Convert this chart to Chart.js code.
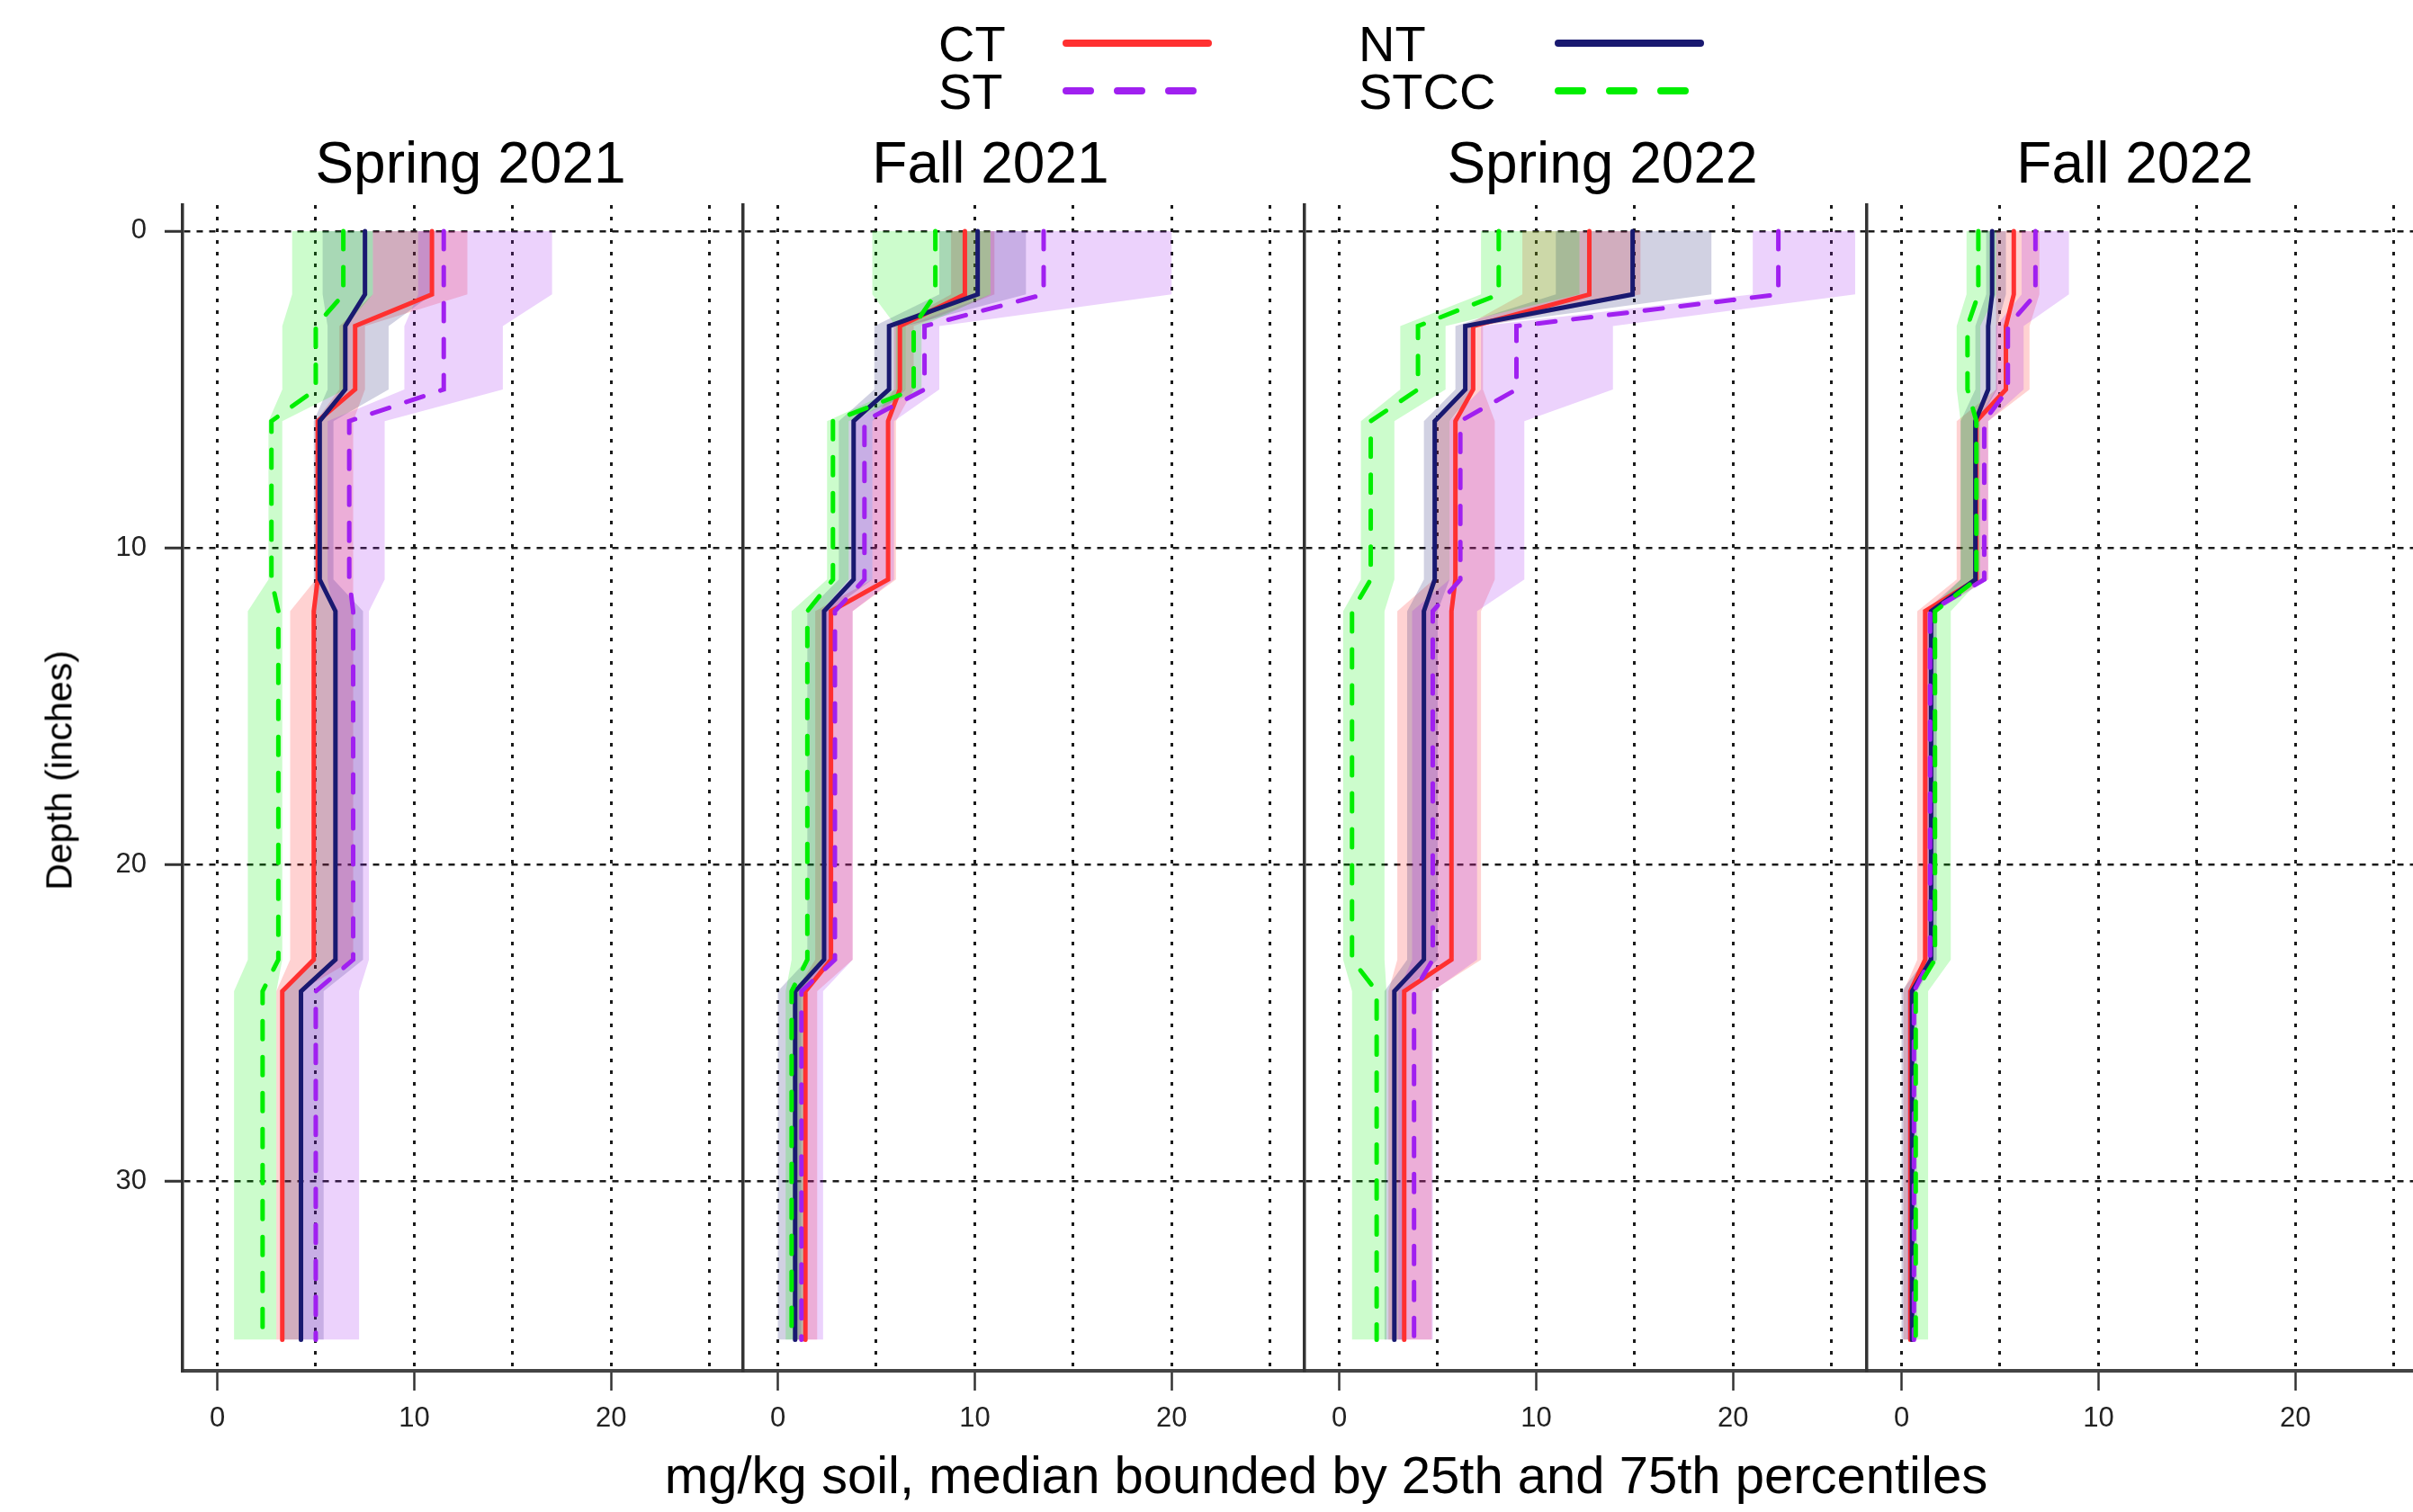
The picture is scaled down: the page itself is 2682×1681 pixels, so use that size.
<!DOCTYPE html>
<html>
<head>
<meta charset="utf-8">
<script src="https://cdn.jsdelivr.net/npm/chart.js@4.4.1/dist/chart.umd.min.js"></script>
<style>
  body { margin: 0; background: #fff; }
  #page { position: relative; width: 2682px; height: 1681px; overflow: hidden; background: #fff;
          font-family: 'Liberation Sans', Arial, sans-serif; color: #000; }
  #page canvas { position: absolute; }
  .txt { position: absolute; white-space: nowrap; line-height: 1; }
</style>
</head>
<body>
<div id="page"></div>
<script>
const seasons = ['Spring 2021', 'Fall 2021', 'Spring 2022', 'Fall 2022'];
const treatments = ['CT', 'NT', 'ST', 'STCC'];
// depth of the plotted points: top and bottom of each sampled layer
const depths = [0, 2, 3, 5, 6, 11, 12, 23, 24, 35];
const xTicks = [0, 5, 10, 15, 20, 25];
const yTicks = [0, 10, 20, 30];

// one value per layer (0-3, 3-6, 6-12, 12-24, 24-36 in), one row per season
const ctMed = [[10.9, 7.0, 5.1, 4.9, 3.3], [9.5, 6.2, 5.6, 2.7, 1.4], [12.7, 6.8, 5.9, 5.7, 3.3], [5.7, 5.3, 3.8, 1.2, 0.45]];
const ctLo  = [[7.9, 6.2, 5.0, 3.7, 3.0], [8.8, 5.9, 4.8, 1.9, 0.9], [9.3, 6.4, 4.8, 2.95, 2.5], [4.8, 4.8, 2.8, 0.8, 0.1]];
const ctHi  = [[12.7, 7.5, 6.9, 6.9, 4.2], [11.0, 6.9, 6.0, 3.8, 2.0], [15.3, 7.3, 7.9, 7.2, 4.7], [7.0, 6.5, 4.4, 1.6, 0.6]];

const ntMed = [[7.5, 6.5, 5.2, 6.0, 4.25], [10.15, 5.65, 3.85, 2.35, 0.88], [14.9, 6.4, 4.85, 4.3, 2.8], [4.6, 4.4, 3.75, 1.5, 0.53]];
const ntLo  = [[5.35, 5.6, 4.9, 4.9, 3.4], [8.2, 4.9, 3.1, 1.5, 0.0], [11.0, 5.9, 4.3, 3.45, 2.3], [4.3, 3.75, 3.0, 1.2, 0.0]];
const ntHi  = [[10.9, 8.7, 5.9, 7.4, 5.4], [12.6, 6.5, 4.8, 2.6, 1.2], [18.9, 6.9, 5.6, 5.0, 3.3], [5.3, 4.85, 3.9, 1.8, 0.7]];

const stMed = [[11.5, 11.5, 6.7, 6.9, 5.0], [13.5, 7.45, 4.4, 2.9, 1.2], [22.3, 9.0, 6.15, 4.75, 3.8], [6.8, 5.4, 4.2, 1.45, 0.63]];
const stLo  = [[10.2, 9.5, 5.6, 5.9, 4.2], [10.8, 6.5, 3.9, 2.4, 0.9], [21.0, 7.2, 5.6, 3.7, 3.0], [6.1, 4.8, 3.8, 1.3, 0.3]];
const stHi  = [[17.0, 14.5, 8.5, 7.7, 7.2], [20.0, 8.2, 5.9, 3.8, 2.3], [26.2, 13.9, 9.4, 7.0, 4.75], [8.5, 6.2, 4.4, 1.75, 0.8]];

const stccMed = [[6.4, 5.0, 2.75, 3.1, 2.3], [8.0, 6.9, 2.8, 1.5, 0.7], [8.1, 4.0, 1.6, 0.65, 1.9], [3.9, 3.35, 3.8, 1.7, 0.72]];
const stccLo  = [[3.8, 3.3, 2.6, 1.55, 0.85], [4.8, 6.0, 2.5, 0.7, 0.4], [7.2, 3.1, 1.1, 0.2, 0.65], [3.3, 2.8, 3.0, 1.4, 0.4]];
const stccHi  = [[7.9, 6.5, 3.3, 3.3, 3.0], [10.8, 7.3, 3.6, 2.2, 1.3], [12.2, 5.4, 2.8, 2.3, 2.4], [4.8, 4.0, 4.0, 2.5, 1.35]];

const medians = [ctMed, ntMed, stMed, stccMed];
const lows = [ctLo, ntLo, stLo, stccLo];
const highs = [ctHi, ntHi, stHi, stccHi];

// styles
const lineColors = ['#ff3030', '#191970', '#a020f0', '#00ee00'];
const bandColors = ['rgba(255,48,48,0.22)', 'rgba(25,25,112,0.2)', 'rgba(160,32,240,0.2)', 'rgba(0,238,0,0.2)'];
const lineDash = [[], [], [20, 20], [20, 20]];

// layout (px)
const W = 2682, H = 1681;
const panelLeft = [203, 826, 1450, 2075];
const panelW = 624;
const plotTop = 228, plotBottom = 1524;
const xMin = -1.76, xMax = 26.75;
const yMin = -0.82, yMax = 35.98;
const titleCenters = [523, 1101, 1781, 2373];

Chart.defaults.font.family = "'Liberation Sans', Arial, sans-serif";
const page = document.getElementById('page');

function profile(vals) {
  return depths.map((d, k) => ({ x: vals[Math.floor(k / 2)], y: d }));
}

function addText(str, left, top, size, width) {
  const el = document.createElement('div');
  el.className = 'txt';
  el.textContent = str;
  el.style.left = left + 'px';
  el.style.top = top + 'px';
  el.style.fontSize = size + 'px';
  if (width) { el.style.width = width + 'px'; el.style.textAlign = 'center'; }
  page.appendChild(el);
  return el;
}

seasons.forEach((season, p) => {
  const axisW = p === 0 ? panelLeft[0] : 10;
  const canvas = document.createElement('canvas');
  canvas.width = axisW + panelW;
  canvas.height = H;
  canvas.style.left = (panelLeft[p] - axisW) + 'px';
  canvas.style.top = '0px';
  page.appendChild(canvas);

  const datasets = [];
  // first dataset is drawn on top: STCC, ST, NT, CT
  [3, 2, 1, 0].forEach(t => {
    datasets.push({
      label: treatments[t],
      data: profile(medians[t][p]),
      borderColor: lineColors[t],
      borderWidth: 5,
      borderDash: lineDash[t],
      borderCapStyle: 'round',
      fill: false,
      pointRadius: 0
    });
    datasets.push({
      label: treatments[t] + ' 25th',
      data: profile(lows[t][p]),
      borderColor: 'rgba(0,0,0,0)',
      borderWidth: 0,
      backgroundColor: bandColors[t],
      fill: '+1',
      pointRadius: 0
    });
    datasets.push({
      label: treatments[t] + ' 75th',
      data: profile(highs[t][p]),
      borderColor: 'rgba(0,0,0,0)',
      borderWidth: 0,
      fill: false,
      pointRadius: 0
    });
  });

  new Chart(canvas, {
    type: 'line',
    data: { datasets: datasets },
    options: {
      responsive: false,
      animation: false,
      devicePixelRatio: 1,
      indexAxis: 'y',
      layout: { padding: { top: plotTop, left: 0, right: 0, bottom: 0 } },
      plugins: {
        legend: { display: false },
        tooltip: { enabled: false },
        filler: { drawTime: 'beforeDatasetsDraw' }
      },
      elements: { line: { tension: 0 } },
      scales: {
        x: {
          type: 'linear',
          min: xMin,
          max: xMax,
          afterBuildTicks: s => { s.ticks = xTicks.map(v => ({ value: v })); },
          afterFit: s => { s.height = H - plotBottom; },
          ticks: {
            font: { size: 31 },
            color: '#222',
            padding: 13,
            maxRotation: 0,
            autoSkip: false,
            callback: v => (v % 10 === 0 ? String(v) : '')
          },
          grid: {
            color: '#1a1a1a',
            lineWidth: 3,
            tickLength: 22,
            tickWidth: 2.5,
            tickBorderDash: [],
            tickColor: c => (c.tick && c.tick.value % 10 === 0 ? '#333' : 'rgba(0,0,0,0)')
          },
          border: { display: true, color: '#444', width: 4, dash: [4, 9] }
        },
        y: {
          type: 'linear',
          reverse: true,
          min: yMin,
          max: yMax,
          afterBuildTicks: s => { s.ticks = yTicks.map(v => ({ value: v })); },
          afterFit: s => { s.width = axisW; },
          ticks: { display: p === 0, font: { size: 31 }, color: '#222', padding: 20 },
          grid: {
            color: '#1a1a1a',
            lineWidth: 2.5,
            drawTicks: p === 0,
            tickLength: 20,
            tickWidth: 3,
            tickColor: '#333',
            tickBorderDash: []
          },
          border: { display: true, color: '#333', width: 3.5, dash: [7, 7] }
        }
      }
    }
  });

  addText(season, titleCenters[p] - 400, 149, 64, 800);
});

// axis titles
addText('mg/kg soil, median bounded by 25th and 75th percentiles', 1474 - 900, 1611, 58, 1800);
const yTitle = addText('Depth (inches)', 66 - 250, 856 - 20.5, 41, 500);
yTitle.style.transform = 'rotate(-90deg)';

// legend: label then line sample, two columns
const legendTextX = [1043, 1510];
const legendLineX = [1185, 1732];
const legendBase = [68, 121];
const legendLineY = [48, 101];
const svgNS = 'http://www.w3.org/2000/svg';
const svg = document.createElementNS(svgNS, 'svg');
svg.setAttribute('width', W);
svg.setAttribute('height', 140);
svg.style.position = 'absolute';
svg.style.left = '0px';
svg.style.top = '0px';
page.appendChild(svg);
treatments.forEach((name, t) => {
  const row = Math.floor(t / 2), col = t % 2;
  addText(name, legendTextX[col], legendBase[row] - 47.4, 56);
  const ln = document.createElementNS(svgNS, 'line');
  const dashed = lineDash[t].length > 0;
  ln.setAttribute('x1', legendLineX[col]);
  ln.setAttribute('x2', legendLineX[col] + (dashed ? 143 : 158));
  ln.setAttribute('y1', legendLineY[row]);
  ln.setAttribute('y2', legendLineY[row]);
  ln.setAttribute('stroke', lineColors[t]);
  ln.setAttribute('stroke-width', 8);
  ln.setAttribute('stroke-linecap', 'round');
  if (dashed) ln.setAttribute('stroke-dasharray', '27 30');
  svg.appendChild(ln);
});
</script>
</body>
</html>
